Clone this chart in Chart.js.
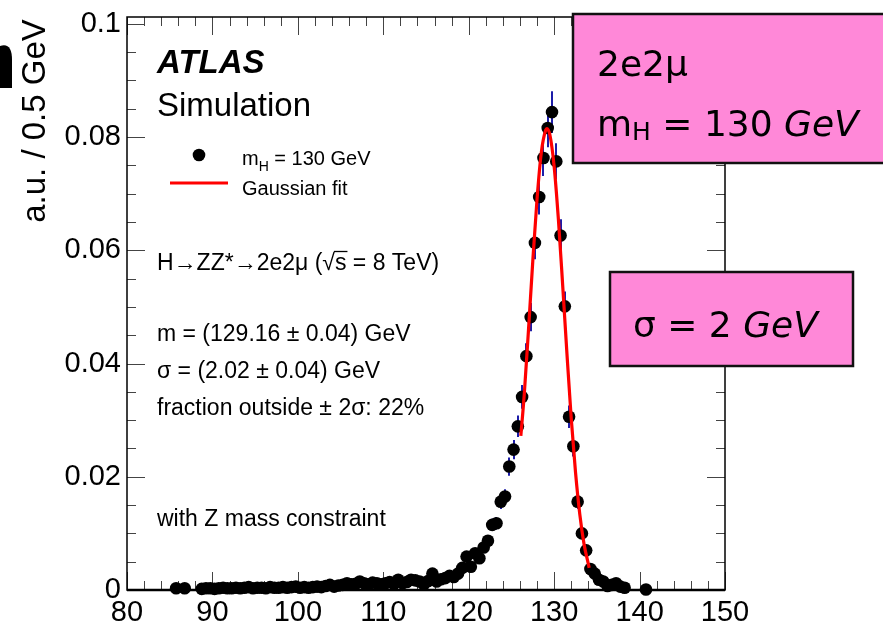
<!DOCTYPE html>
<html>
<head>
<meta charset="utf-8">
<title>H to ZZ* to 2e2mu mass, mH = 130 GeV</title>
<script src="https://cdn.jsdelivr.net/npm/chart.js@4.4.1/dist/chart.umd.min.js"></script>
<style>
    html, body { margin: 0; padding: 0; background: #ffffff; }
    #wrap { width: 883px; height: 626px; position: relative; }
</style>
</head>
<body>
<div id="wrap"><canvas id="massChart" width="883" height="626"></canvas></div>
<script>
/* ================================
   Data: 4-lepton mass, 0.5 GeV bins
================================ */
const massBins = [
    85.75, 86.75, 88.75, 89.25, 89.75, 90.25, 90.75, 91.25, 91.75, 92.25,
    92.75, 93.25, 93.75, 94.25, 94.75, 95.25, 95.75, 96.25, 96.75, 97.25,
    97.75, 98.25, 98.75, 99.25, 99.75, 100.25, 100.75, 101.25, 101.75, 102.25,
    102.75, 103.25, 103.75, 104.25, 104.75, 105.25, 105.75, 106.25, 106.75, 107.25,
    107.75, 108.25, 108.75, 109.25, 109.75, 110.25, 110.75, 111.25, 111.75, 112.25,
    112.75, 113.25, 113.75, 114.25, 114.75, 115.25, 115.75, 116.25, 116.75, 117.25,
    117.75, 118.25, 118.75, 119.25, 119.75, 120.25, 120.75, 121.25, 121.75, 122.25,
    122.75, 123.25, 123.75, 124.25, 124.75, 125.25, 125.75, 126.25, 126.75, 127.25,
    127.75, 128.25, 128.75, 129.25, 129.75, 130.25, 130.75, 131.25, 131.75, 132.25,
    132.75, 133.25, 133.75, 134.25, 134.75, 135.25, 135.75, 136.25, 136.75, 137.25,
    137.75, 138.25, 140.75
];

const binFractions = [
    0.0003, 0.0003, 0.0002, 0.0003, 0.0003, 0.0002, 0.0003, 0.0004, 0.0003, 0.0003,
    0.0004, 0.0003, 0.0004, 0.0005, 0.0003, 0.0004, 0.0004, 0.0003, 0.0005, 0.0004,
    0.0004, 0.0005, 0.0004, 0.0005, 0.0006, 0.0004, 0.0005, 0.0004, 0.0005, 0.0006,
    0.0005, 0.0007, 0.0009, 0.0006, 0.0008, 0.0009, 0.0012, 0.0010, 0.0011, 0.0015,
    0.0012, 0.0010, 0.0013, 0.0012, 0.0010, 0.0012, 0.0014, 0.0011, 0.0018, 0.0012,
    0.0014, 0.0018, 0.0017, 0.0015, 0.0010, 0.0016, 0.0029, 0.0015, 0.0019, 0.0021,
    0.0025, 0.0023, 0.0029, 0.0039, 0.0059, 0.0041, 0.0065, 0.0056, 0.0075, 0.0087,
    0.0115, 0.0118, 0.0156, 0.0165, 0.0218, 0.0248, 0.0289, 0.0341, 0.0413, 0.0482,
    0.0613, 0.0694, 0.0763, 0.0816, 0.0844, 0.0757, 0.0626, 0.0501, 0.0306, 0.0254,
    0.0156, 0.0100, 0.0070, 0.0037, 0.0029, 0.0018, 0.0015, 0.0007, 0.0009, 0.0012,
    0.0006, 0.0004, 0.0001
];

const binErrors = [
    0.0005, 0.0005, 0.0005, 0.0005, 0.0005, 0.0005, 0.0005, 0.0005, 0.0005, 0.0005,
    0.0005, 0.0005, 0.0005, 0.0005, 0.0005, 0.0005, 0.0005, 0.0005, 0.0005, 0.0005,
    0.0005, 0.0005, 0.0005, 0.0005, 0.0005, 0.0005, 0.0005, 0.0005, 0.0005, 0.0005,
    0.0005, 0.0005, 0.0005, 0.0005, 0.0005, 0.0005, 0.0005, 0.0005, 0.0005, 0.0005,
    0.0005, 0.0005, 0.0005, 0.0005, 0.0005, 0.0005, 0.0005, 0.0005, 0.0005, 0.0005,
    0.0005, 0.0005, 0.0005, 0.0005, 0.0005, 0.0005, 0.0005, 0.0005, 0.0005, 0.0005,
    0.0005, 0.0005, 0.0005, 0.0006, 0.0007, 0.0006, 0.0008, 0.0007, 0.0008, 0.0009,
    0.0011, 0.0011, 0.0013, 0.0013, 0.0016, 0.0017, 0.0019, 0.0021, 0.0023, 0.0025,
    0.0029, 0.0031, 0.0032, 0.0034, 0.0037, 0.0032, 0.0029, 0.0026, 0.0020, 0.0018,
    0.0013, 0.0010, 0.0008, 0.0006, 0.0005, 0.0005, 0.0005, 0.0005, 0.0005, 0.0005,
    0.0005, 0.0005, 0.0005
];

// Gaussian fit (m = 129.16, sigma = 2.02) over the fit window
const fitMass = [126.1, 126.5, 127.0, 127.5, 128.0, 128.5, 129.0, 129.16, 129.5, 130.0,
    130.5, 131.0, 131.5, 132.0, 132.5, 133.0, 133.5, 134.0, 134.1];
const fitValues = [0.0272, 0.0345, 0.0460, 0.0581, 0.0691, 0.0773, 0.0812, 0.0815, 0.0804, 0.0748,
    0.0654, 0.0538, 0.0417, 0.0303, 0.0208, 0.0134, 0.0081, 0.0046, 0.0039];

// axis labels
const xTickValues = [80, 90, 100, 110, 120, 130, 140, 150];
const xTickLabels = ["80", "90", "100", "110", "120", "130", "140", "150"];
const yTickValues = [0, 0.02, 0.04, 0.06, 0.08, 0.1];
const yTickLabels = ["0", "0.02", "0.04", "0.06", "0.08", "0.1"];

const HELV = "'Liberation Sans', Arial, Helvetica, sans-serif";
const COMIC = "'Comic Sans MS', 'DejaVu Sans', sans-serif";

/* ================================
   Small text helpers
================================ */
// draws a list of [text, font, dy] pieces one after another, returns end x
function drawRuns(ctx, x, y, runs) {
    runs.forEach(function (r) {
        ctx.font = r[1];
        ctx.fillText(r[0], x, y + (r[2] || 0));
        x += ctx.measureText(r[0]).width;
    });
    return x;
}

/* ================================
   Error bars (drawn under the markers)
================================ */
const errorBars = {
    id: "errorBars",
    beforeDatasetsDraw(chart) {
        const ctx = chart.ctx;
        const xs = chart.scales.x;
        const ys = chart.scales.y;
        ctx.save();
        ctx.strokeStyle = "#1c1ca8";
        ctx.lineWidth = 2;
        massBins.forEach(function (m, i) {
            const px = Math.round(xs.getPixelForValue(m));
            ctx.beginPath();
            ctx.moveTo(px, ys.getPixelForValue(binFractions[i] - binErrors[i]));
            ctx.lineTo(px, ys.getPixelForValue(binFractions[i] + binErrors[i]));
            ctx.stroke();
        });
        ctx.restore();
    }
};

/* ================================
   ROOT style frame, inside ticks
================================ */
const rootFrame = {
    id: "rootFrame",
    beforeDatasetsDraw(chart) {
        const ctx = chart.ctx;
        const xs = chart.scales.x;
        const ys = chart.scales.y;
        const a = chart.chartArea;
        ctx.save();
        ctx.strokeStyle = "#444";
        ctx.lineWidth = 1;
        // x ticks every 2 GeV, long ones every 10
        for (let v = 80; v <= 150; v += 2) {
            const px = Math.round(xs.getPixelForValue(v)) + 0.5;
            const len = v % 10 === 0 ? 18 : 9;
            ctx.beginPath();
            ctx.moveTo(px, a.bottom);
            ctx.lineTo(px, a.bottom - len);
            ctx.moveTo(px, a.top);
            ctx.lineTo(px, a.top + len);
            ctx.stroke();
        }
        // y ticks every 0.005, long ones every 0.02
        for (let k = 0; k <= 20; k++) {
            const py = Math.round(ys.getPixelForValue(k * 0.005)) + 0.5;
            const len = k % 4 === 0 ? 18 : 9;
            ctx.beginPath();
            ctx.moveTo(a.left, py);
            ctx.lineTo(a.left + len, py);
            ctx.moveTo(a.right, py);
            ctx.lineTo(a.right - len, py);
            ctx.stroke();
        }
        ctx.strokeStyle = "#000";
        ctx.lineWidth = 1.5;
        ctx.strokeRect(a.left, a.top, a.right - a.left, a.bottom - a.top);
        ctx.lineWidth = 2.5;
        ctx.beginPath();
        ctx.moveTo(a.left, a.bottom);
        ctx.lineTo(a.right, a.bottom);
        ctx.stroke();
        ctx.restore();
    },
    afterDraw(chart) {
        const ctx = chart.ctx;
        const xs = chart.scales.x;
        const ys = chart.scales.y;
        ctx.save();
        ctx.fillStyle = "#000";

        // tick labels
        ctx.font = "29px " + HELV;
        ctx.textAlign = "right";
        ctx.textBaseline = "middle";
        yTickValues.forEach(function (v, i) {
            ctx.fillText(yTickLabels[i], 121, ys.getPixelForValue(v));
        });
        ctx.textAlign = "center";
        ctx.textBaseline = "alphabetic";
        xTickValues.forEach(function (v, i) {
            ctx.fillText(xTickLabels[i], xs.getPixelForValue(v), 621);
        });

        // y title
        ctx.save();
        ctx.translate(45, 121);
        ctx.rotate(-Math.PI / 2);
        ctx.font = "33px " + HELV;
        ctx.fillText("a.u. / 0.5 GeV", 0, 0);
        ctx.restore();

        // clipped letter at the left edge
        ctx.beginPath();
        ctx.moveTo(0, 46);
        ctx.quadraticCurveTo(12, 42, 12, 60);
        ctx.lineTo(12, 88);
        ctx.lineTo(0, 88);
        ctx.closePath();
        ctx.fill();

        ctx.textAlign = "left";
        ctx.font = "italic bold 33px " + HELV;
        ctx.fillText("ATLAS", 157, 73);
        ctx.font = "33px " + HELV;
        ctx.fillText("Simulation", 157, 116);

        // legend
        ctx.beginPath();
        ctx.arc(199, 155, 6.3, 0, Math.PI * 2);
        ctx.fill();
        drawRuns(ctx, 242, 165, [
            ["m", "20px " + HELV],
            ["H", "14px " + HELV, 6],
            [" = 130 GeV", "20px " + HELV]
        ]);
        ctx.strokeStyle = "#ff0000";
        ctx.lineWidth = 3;
        ctx.beginPath();
        ctx.moveTo(170, 183);
        ctx.lineTo(228, 183);
        ctx.stroke();
        ctx.font = "20px " + HELV;
        ctx.fillText("Gaussian fit", 242, 195);

        // process and fit results
        const f = "23px " + HELV;
        let x = drawRuns(ctx, 157, 270, [["H\u2192ZZ*\u21922e2\u03bc (\u221a", f]]);
        ctx.font = f;
        const sw = ctx.measureText("s").width;
        ctx.fillText("s", x, 270);
        ctx.strokeStyle = "#000";
        ctx.lineWidth = 1.3;
        ctx.beginPath();
        ctx.moveTo(x - 1, 251.5);
        ctx.lineTo(x + sw + 1, 251.5);
        ctx.stroke();
        ctx.fillText(" = 8 TeV)", x + sw, 270);

        ctx.fillText("m = (129.16 \u00b1 0.04) GeV", 157, 341);
        ctx.fillText("\u03c3 = (2.02 \u00b1 0.04) GeV", 157, 378);
        ctx.fillText("fraction outside \u00b1 2\u03c3: 22%", 157, 415);
        ctx.fillText("with Z mass constraint", 157, 526);

        // boxes on top
        ctx.fillStyle = "#ff88d8";
        ctx.strokeStyle = "#111";
        ctx.lineWidth = 2.5;
        ctx.fillRect(573, 14, 320, 149);
        ctx.strokeRect(573, 14, 320, 149);
        ctx.fillRect(610, 272, 243, 94);
        ctx.strokeRect(610, 272, 243, 94);

        ctx.fillStyle = "#000";
        drawRuns(ctx, 597, 76, [["2e2\u03bc", "36px " + COMIC]]);
        drawRuns(ctx, 597, 136, [
            ["m", "36px " + COMIC],
            ["H", "25px " + COMIC, 4],
            [" = 130 ", "36px " + COMIC],
            ["GeV", "italic 36px " + COMIC]
        ]);
        drawRuns(ctx, 633, 337, [
            ["\u03c3 = 2 ", "36px " + COMIC],
            ["GeV", "italic 36px " + COMIC]
        ]);
        ctx.restore();
    }
};

/* ================================
   Chart
================================ */
function buildChart() {
    const simPoints = massBins.map(function (m, i) {
        return { x: m, y: binFractions[i] };
    });
    const fitPoints = fitMass.map(function (m, i) {
        return { x: m, y: fitValues[i] };
    });

    const ctx = document.getElementById("massChart").getContext("2d");
    new Chart(ctx, {
        type: "scatter",
        data: {
            datasets: [{
                label: "Gaussian fit",
                type: "line",
                data: fitPoints,
                borderColor: "#ff0000",
                borderWidth: 3.2,
                pointRadius: 0,
                cubicInterpolationMode: "monotone",
                fill: false,
                order: 0,
            }, {
                label: "mH = 130 GeV",
                data: simPoints,
                backgroundColor: "#000000",
                borderColor: "#000000",
                borderWidth: 0,
                pointRadius: 6.3,
                pointHoverRadius: 6.3,
                clip: false,
                order: 1,
            }],
        },
        options: {
            responsive: false,
            animation: false,
            events: [],
            layout: {
                padding: { left: 127, right: 158, top: 17, bottom: 36 },
            },
            scales: {
                x: { type: "linear", min: 80, max: 150, display: false },
                y: { type: "linear", min: 0, max: 0.1012, display: false },
            },
            plugins: {
                legend: { display: false },
                tooltip: { enabled: false },
            },
        },
        plugins: [rootFrame, errorBars],
    });
}

buildChart();
</script>
</body>
</html>
